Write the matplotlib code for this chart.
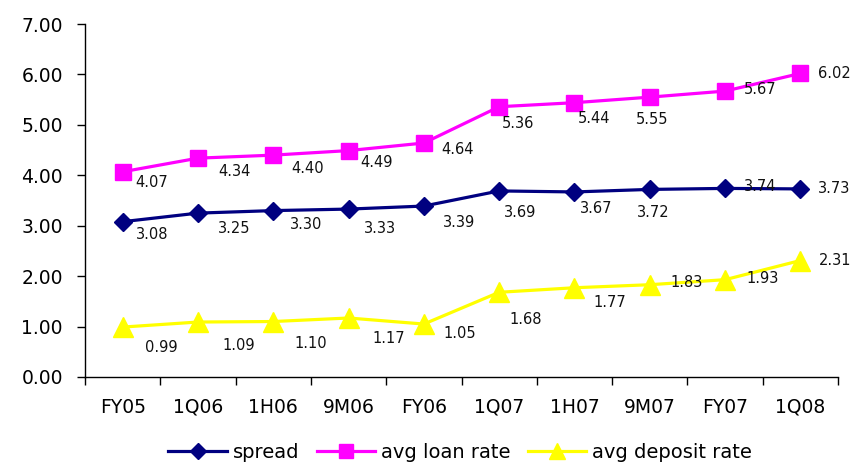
import matplotlib
matplotlib.use("Agg")
import matplotlib.pyplot as plt
import numpy as np

plt.rcParams['font.family'] = ['DejaVu Sans']

# Reporting periods and rates (%)
periods = ["FY05", "1Q06", "1H06", "9M06", "FY06", "1Q07", "1H07", "9M07", "FY07", "1Q08"]
spread = [3.08, 3.25, 3.30, 3.33, 3.39, 3.69, 3.67, 3.72, 3.74, 3.73]
avg_loan_rate = [4.07, 4.34, 4.40, 4.49, 4.64, 5.36, 5.44, 5.55, 5.67, 6.02]
avg_deposit_rate = [0.99, 1.09, 1.10, 1.17, 1.05, 1.68, 1.77, 1.83, 1.93, 2.31]
y_ticks = [0, 1, 2, 3, 4, 5, 6, 7]

# Value-label placement (pixel offsets from each marker: right, up)
spread_offsets = [(13, -13), (20, -15), (17, -14), (15, -19), (19, -16),
                  (5, -22), (5, -17), (-13, -23), (19, 2), (18, 0)]
loan_offsets = [(13, -11), (20, -13), (18, -13), (12, -12), (17, -6),
                (3, -17), (3, -16), (-14, -22), (19, 2), (18, 0)]
deposit_offsets = [(22, -20), (24, -23), (21, -22), (24, -21), (20, -9),
                   (10, -27), (19, -15), (21, 2), (21, 1), (18, 0)]

fig = plt.figure(figsize=(8.52, 4.62), dpi=100)
ax = fig.add_axes([0.0998, 0.184, 0.8838, 0.764])

x = np.arange(len(periods))

series = [
    ("spread", spread, "#000080", "D", 9.5, spread_offsets),
    ("avg loan rate", avg_loan_rate, "#FF00FF", "s", 11.5, loan_offsets),
    ("avg deposit rate", avg_deposit_rate, "#FFFF00", "^", 14, deposit_offsets),
]

for name, vals, color, marker, ms, offs in series:
    ax.plot(x, vals, color=color, lw=2.3, marker=marker, markersize=ms,
            markeredgecolor=color, markerfacecolor=color, label=name, zorder=3,
            clip_on=False)
    for xi, v, (dx, dy) in zip(x, vals, offs):
        ax.annotate(f"{v:.2f}", (xi, v), xytext=(dx, dy), textcoords="offset pixels",
                    ha="left", va="center", fontsize=10.5, color="#111111", zorder=5)

ax.set_xlim(-0.5, len(periods) - 0.5)
ax.set_ylim(0, 7)

# Category boundaries carry the tick marks; names sit between them
ax.set_xticks(np.arange(-0.5, len(periods), 1.0))
ax.set_xticklabels([])
ax.set_xticks(x, minor=True)
ax.set_xticklabels(periods, minor=True, fontsize=13.5)
ax.tick_params(axis="x", which="major", direction="out", length=6, width=1, colors="black")
ax.tick_params(axis="x", which="minor", length=0, pad=15)

ax.set_yticks(y_ticks)
ax.set_yticklabels([f"{t:.2f}" for t in y_ticks], fontsize=13.5)
ax.tick_params(axis="y", direction="out", length=6, width=1, pad=10)

for side in ("top", "right"):
    ax.spines[side].set_visible(False)
for side in ("left", "bottom"):
    ax.spines[side].set_linewidth(1)
    ax.spines[side].set_color("black")

leg = fig.legend(loc="center", bbox_to_anchor=(0.54, 0.02), ncol=3, frameon=False,
                 fontsize=14, handlelength=3.0, handletextpad=0.3, columnspacing=0.9,
                 numpoints=1, markerscale=0.85)

fig.savefig("out.png", dpi=100)
